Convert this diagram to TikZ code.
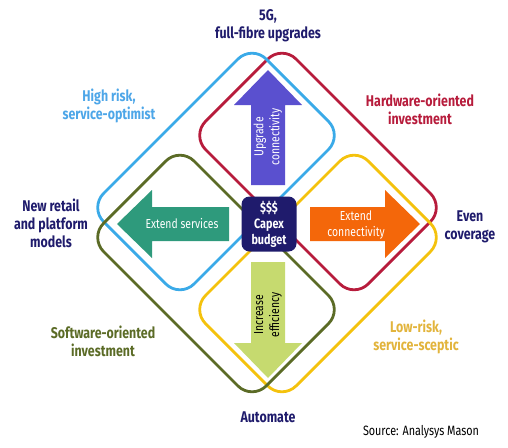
\documentclass[tikz,border=0pt]{standalone}
\usepackage{fontspec}
\setmainfont{Fira Sans}[FakeStretch=0.8]
\usetikzlibrary{positioning}

\definecolor{navy}{HTML}{1F1B6C}
\definecolor{ringblue}{HTML}{3AAAE8}
\definecolor{ringred}{HTML}{B71C3C}
\definecolor{ringolive}{HTML}{5B6B26}
\definecolor{ringyellow}{HTML}{F4C20D}
\definecolor{txtblue}{HTML}{4DA6E8}
\definecolor{txtyellow}{HTML}{E2B43C}
\definecolor{upcol}{HTML}{5A50CF}
\definecolor{leftcol}{HTML}{2E9A7C}
\definecolor{rightcol}{HTML}{F4670A}
\definecolor{downcol}{HTML}{C6DA6F}

\tikzset{
  ring/.style={draw=#1, line width=2.8pt, rounded corners=20pt,
    minimum width=230pt, minimum height=128pt, inner sep=0pt},
  lbl/.style={font=\fontsize{15.5}{18}\selectfont\bfseries, align=center, text=#1},
  arrowtxt/.style={font=\fontsize{13}{16}\selectfont, align=center, text=white},
}

\begin{document}
\begin{tikzpicture}[x=1pt, y=-1pt]
        \useasboundingbox (0,0) rectangle (508,447);

        % the four strategy rings
        \node (hardware) [ring=ringred, rotate=-45] at (318,171.5) {};
        \node (highrisk) [ring=ringblue, rotate=45] at (216,171.5) {};
        \node (lowrisk) [ring=ringyellow, rotate=45] at (318,273.5) {};
        \node (software) [ring=ringolive, rotate=-45] at (216,273.5) {};

        % arrows out of the budget
        \fill[upcol] (251,185) -- (251,105) -- (234,105) -- (268,70) -- (302,105) -- (285,105) -- (285,185) -- cycle;
        \fill[downcol] (251,262) -- (251,343) -- (234,343) -- (268,378) -- (302,343) -- (285,343) -- (285,262) -- cycle;
        \fill[leftcol] (229,207) -- (152,207) -- (152,190) -- (117,224) -- (152,258) -- (152,241) -- (229,241) -- cycle;
        \fill[rightcol] (310,207) -- (385,207) -- (385,190) -- (420,224) -- (385,258) -- (385,241) -- (310,241) -- cycle;

        \node (capex) [fill=navy, rounded corners=8pt, minimum width=55pt, minimum height=55pt,
          text=white, align=center, font=\fontsize{13.5}{16}\selectfont\bfseries] at (269,224) {\$\$\$\\Capex\\budget};

        \node (upgrade) [arrowtxt, rotate=90] at (268,137) {Upgrade\\connectivity};
        \node (efficiency) [arrowtxt, text=black, rotate=90] at (268,315) {Increase\\efficiency};
        \node (services) [arrowtxt] at (182,224) {Extend services};
        \node (connect) [arrowtxt] at (356,225) {Extend\\connectivity};

        % outer labels
        \node (fiveg) [lbl=navy] at (268,26) {5G,\\full-fibre upgrades};
        \node (highrisklbl) [lbl=txtblue] at (109,106) {High risk,\\service-optimist};
        \node (hardwarelbl) [lbl=ringred] at (420,109) {Hardware-oriented\\investment};
        \node (retail) [lbl=navy] at (51,223) {New retail\\and platform\\models};
        \node (even) [lbl=navy] at (470,227) {Even\\coverage};
        \node (softwarelbl) [lbl=ringolive] at (103,341) {Software-oriented\\investment};
        \node (lowrisklbl) [lbl=txtyellow] at (416,337) {Low-risk,\\service-sceptic};
        \node (automate) [lbl=navy] at (268,417) {Automate};
        \node (source) [font=\fontsize{13.5}{15}\selectfont] at (421,432) {Source: Analysys Mason};
      \end{tikzpicture}
\end{document}
